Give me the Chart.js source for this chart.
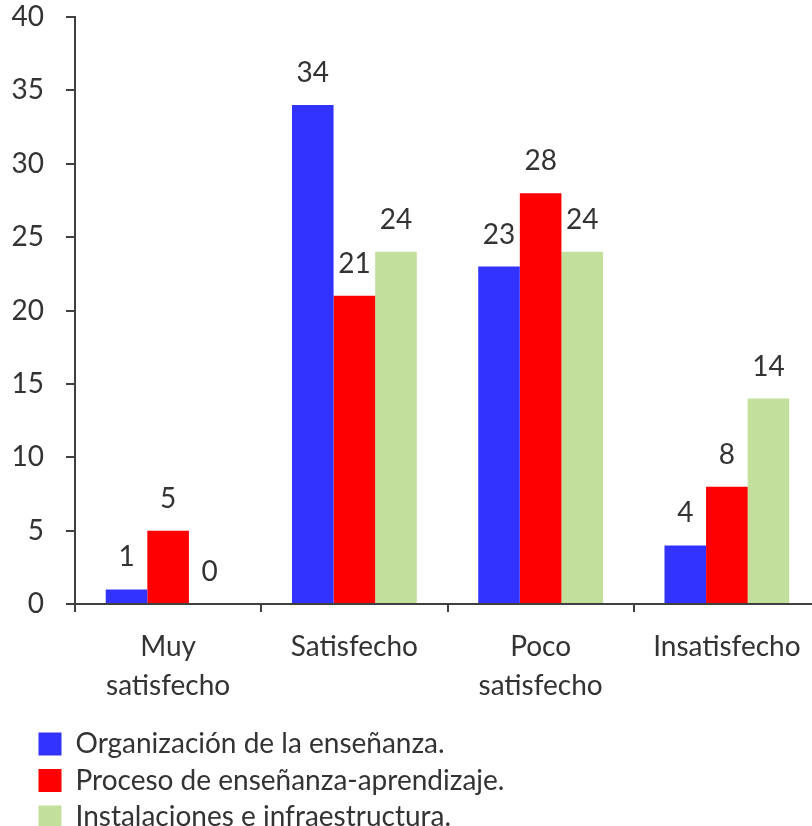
<!DOCTYPE html>
<html>
<head>
<meta charset="utf-8">
<script src="https://cdn.jsdelivr.net/npm/chart.js@4.4.1/dist/chart.umd.min.js"></script>
<style>
    html, body { margin: 0; padding: 0; background: #fff; overflow: hidden; }
    #wrap { width: 820px; height: 841px; }
</style>
</head>
<body>
<div id="wrap"><canvas id="chart"></canvas></div>
<script>
// --- Datos ---
const categories = [["Muy", "satisfecho"], "Satisfecho", ["Poco", "satisfecho"], "Insatisfecho"];
const seriesNames = [
    "Organización de la enseñanza.",
    "Proceso de enseñanza-aprendizaje.",
    "Instalaciones e infraestructura."
];
const organizacion = [1, 34, 23, 4];
const proceso = [5, 21, 28, 8];
const instalaciones = [0, 24, 24, 14];
const yMin = 0;
const yMax = 40;
const yStep = 5;

// --- Estilo ---
const FONT = "Lato";
const FONT_SIZE = 28;
const TEXT = "#333333";
const AXIS = "#404040";
const COLORS = ["#3333ff", "#ff0000", "#c3df9c"];

// etiquetas de valor encima de cada barra
const valueLabels = {
    id: "valueLabels",
    afterDatasetsDraw(chart) {
        const ctx = chart.ctx;
        ctx.save();
        ctx.font = `${FONT_SIZE}px ${FONT}`;
        ctx.fillStyle = TEXT;
        ctx.textAlign = "center";
        ctx.textBaseline = "alphabetic";
        chart.data.datasets.forEach((ds, i) => {
            chart.getDatasetMeta(i).data.forEach((bar, j) => {
                ctx.fillText(String(ds.data[j]), bar.x, bar.y - 23);
            });
        });
        ctx.restore();
    }
};

// la leyenda va un poco a la derecha del borde del lienzo
const legendShift = {
    id: "legendShift",
    afterLayout(chart) {
        chart.legend.left += 30;
        chart.legend.right += 30;
    }
};

const series = [organizacion, proceso, instalaciones];

new Chart(document.getElementById("chart").getContext("2d"), {
    type: "bar",
    data: {
        labels: categories,
        datasets: series.map((data, i) => ({
            label: seriesNames[i],
            data: data,
            backgroundColor: COLORS[i],
            borderWidth: 0,
            categoryPercentage: 0.67,
            barPercentage: 1
        }))
    },
    options: {
        responsive: true,
        maintainAspectRatio: false,
        animation: false,
        layout: {
            padding: { top: 5, left: 0, right: 0, bottom: 0 }
        },
        scales: {
            y: {
                min: yMin,
                max: yMax,
                afterFit: (scale) => {
                    scale.width = 75;
                    scale.paddingTop = 17;
                    scale.paddingBottom = 17;
                },
                border: { color: AXIS, width: 2 },
                grid: { drawOnChartArea: false, drawTicks: true, tickLength: 9, color: AXIS, lineWidth: 2 },
                ticks: {
                    stepSize: yStep,
                    padding: 22,
                    color: TEXT,
                    font: { family: FONT, size: FONT_SIZE }
                }
            },
            x: {
                afterFit: (scale) => { scale.height += 1; },
                border: { color: AXIS, width: 2 },
                grid: { drawOnChartArea: false, drawTicks: true, tickLength: 8, color: AXIS, lineWidth: 2, offset: true },
                ticks: {
                    padding: 15,
                    color: TEXT,
                    maxRotation: 0,
                    font: { family: FONT, size: FONT_SIZE, lineHeight: 1.4 }
                }
            }
        },
        plugins: {
            legend: {
                position: "bottom",
                align: "start",
                labels: {
                    boxWidth: 23,
                    boxHeight: 23,
                    padding: 8.5,
                    color: TEXT,
                    font: { family: FONT, size: FONT_SIZE }
                }
            },
            tooltip: { enabled: false }
        }
    },
    plugins: [valueLabels, legendShift]
});
</script>
</body>
</html>
